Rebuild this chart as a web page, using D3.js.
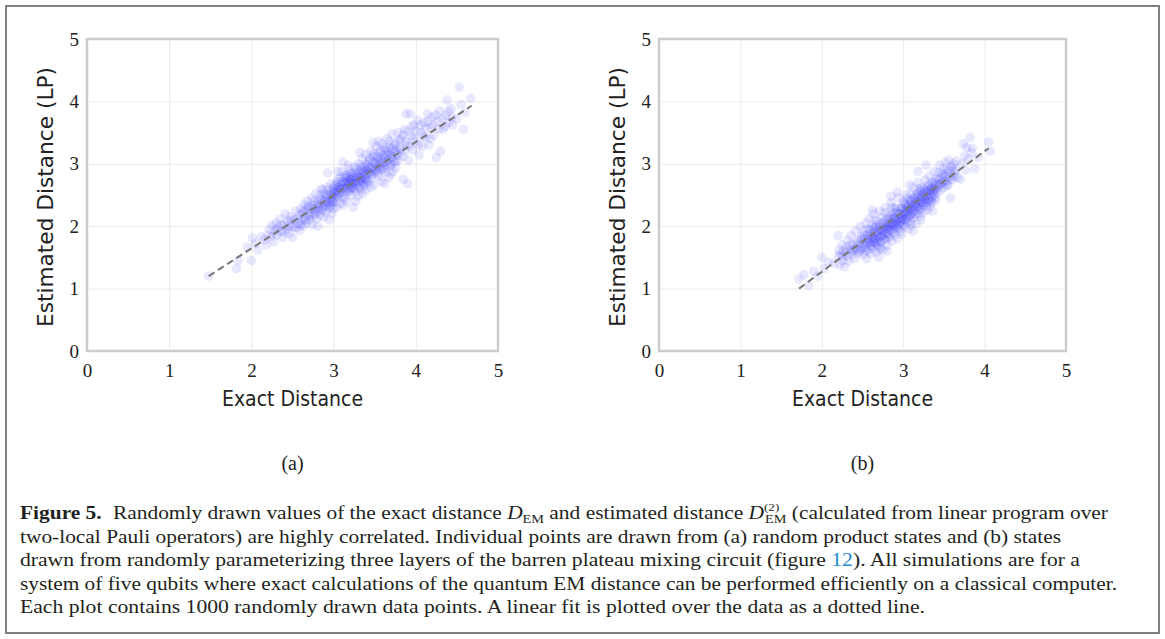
<!DOCTYPE html>
<html>
<head>
<meta charset="utf-8">
<script src="https://cdn.jsdelivr.net/npm/d3@7"></script>
<style>
  body { margin: 0; background: #fff; }
  svg { display: block; }
  .serif { font-family: "Liberation Serif", "Times New Roman", serif; }
  .sans { font-family: "DejaVu Sans", sans-serif; }
</style>
</head>
<body>
<div id="chart"></div>
<script>
// axis ticks shared by both panels
const xTicks = [0, 1, 2, 3, 4, 5];
const yTicks = [0, 1, 2, 3, 4, 5];
const xLabel = "Exact Distance";
const yLabel = "Estimated Distance (LP)";
const panelNames = ["(a)", "(b)"];

// (a) random product states: [exact, estimated]
const pointsA = [
  [1.48,1.20],[1.82,1.32],[1.84,1.45],[1.95,1.66],[2.00,1.45],[2.01,1.81],[2.05,1.72],[2.08,1.62],[2.12,1.83],[2.16,1.78],[2.18,1.70],[2.20,1.86],
  [2.22,1.95],[2.24,1.83],[2.25,2.02],[2.27,1.75],[2.28,1.90],[2.30,2.05],[2.31,1.86],[2.33,1.98],[2.35,2.12],[2.36,1.92],[2.38,1.82],[2.40,2.02],[2.41,2.20],[2.43,1.95],[2.44,2.08],[2.46,1.88],[2.47,2.15],[2.49,2.00],[2.50,1.82],[2.52,2.10],[2.54,2.24],[2.55,1.97],[2.57,2.05],[2.58,2.18],[2.59,1.93],
  [2.60,2.28],[2.61,2.08],[2.62,2.20],[2.63,2.00],[2.64,2.35],[2.65,2.14],[2.66,2.26],[2.67,2.05],[2.68,2.40],[2.69,2.18],[2.70,2.30],[2.71,2.10],[2.72,2.22],[2.73,2.45],[2.74,2.02],[2.75,2.33],[2.76,2.17],[2.77,2.27],[2.78,2.52],[2.79,2.12],[2.80,2.38],[2.80,2.24],[2.81,2.00],[2.82,2.30],[2.83,2.44],[2.84,2.18],[2.85,2.36],[2.86,2.26],[2.87,2.58],[2.88,2.14],[2.89,2.40],[2.90,2.32],[2.90,2.48],[2.91,2.22],[2.92,2.62],[2.93,2.37],[2.94,2.28],[2.95,2.50],[2.95,2.10],[2.96,2.42],[2.97,2.33],[2.97,2.68],[2.98,2.55],[2.98,2.20],[2.99,2.46],[2.99,2.38],[3.00,2.60],[3.00,2.28],[2.93,2.85],[2.85,2.60],
  [3.01,2.52],[3.02,2.40],[3.03,2.66],[3.04,2.30],[3.05,2.58],[3.06,2.75],[3.06,2.46],[3.07,2.62],[3.08,2.36],[3.09,2.70],[3.10,2.54],[3.10,2.88],[3.11,3.03],[3.12,2.60],[3.13,2.45],[3.13,2.78],[3.14,2.68],[3.15,2.55],[3.16,2.82],[3.16,2.40],[3.17,2.72],[3.18,2.64],[3.19,2.92],[3.20,2.58],[3.20,2.76],[3.21,2.50],[3.22,2.70],[3.22,2.85],[3.23,2.62],[3.24,2.30],[3.25,2.78],[3.25,2.68],[3.26,2.95],[3.27,2.56],[3.28,2.74],[3.28,2.84],[3.29,2.64],[3.30,2.48],[3.30,3.00],[3.31,2.80],[3.32,2.70],[3.33,2.90],[3.33,2.60],[3.34,2.76],[3.35,3.08],[3.35,2.52],[3.36,2.86],[3.36,2.72],[3.37,2.94],[3.38,2.66],[3.38,2.82],[3.39,3.15],[3.39,2.58],[3.40,2.90],[3.40,2.76],[3.32,3.18],[3.18,2.98],[3.05,2.88],[3.27,2.40],[3.12,2.34],
  [3.41,2.98],[3.42,2.70],[3.43,3.05],[3.44,2.85],[3.45,3.20],[3.46,2.76],[3.47,2.94],[3.48,3.12],[3.49,2.66],[3.50,3.02],[3.51,2.88],[3.52,3.28],[3.53,2.96],[3.54,3.10],[3.55,2.80],[3.56,3.18],[3.57,3.00],[3.58,2.72],[3.59,3.32],[3.60,2.92],[3.61,3.08],[3.62,3.22],[3.63,2.86],[3.64,3.02],[3.65,3.40],[3.66,3.14],[3.67,2.78],[3.68,3.26],[3.69,2.98],[3.70,3.10],[3.71,3.48],[3.72,2.88],[3.73,3.20],[3.74,3.04],[3.75,3.34],[3.76,2.94],[3.77,3.16],[3.78,3.50],[3.79,3.06],[3.80,3.26],[3.55,3.36],[3.62,2.68],[3.48,3.34],[3.70,2.84],[3.45,2.62],
  [3.82,3.40],[3.84,3.12],[3.85,2.75],[3.86,3.55],[3.88,3.80],[3.89,3.30],[3.90,2.68],[3.91,3.06],[3.93,3.80],[3.94,3.45],[3.96,3.22],[3.98,3.62],[4.00,3.36],[4.02,3.70],[4.04,3.14],[4.06,3.50],[4.08,3.28],[4.10,3.66],[4.12,3.42],[4.14,3.80],[4.16,3.30],[4.18,3.58],[4.20,3.75],[4.22,3.46],[4.25,3.10],[4.27,3.68],[4.29,3.85],[4.30,3.20],
  [4.33,3.55],[4.36,3.78],[4.38,4.02],[4.40,3.66],[4.43,3.88],[4.45,3.62],[4.50,3.72],[4.53,4.23],[4.55,3.95],[4.58,3.55],[4.60,3.82],[4.67,4.05],
  // denser core
  [2.52,1.98],[2.56,2.12],[2.60,2.02],[2.63,2.24],[2.66,2.10],[2.69,2.32],[2.71,2.16],[2.74,2.28],[2.76,2.40],[2.78,2.20],[2.81,2.34],[2.83,2.26],[2.84,2.50],[2.86,2.42],[2.88,2.30],[2.89,2.52],[2.91,2.38],[2.92,2.46],[2.94,2.58],[2.95,2.34],[2.97,2.50],[2.98,2.40],[3.00,2.54],[3.01,2.64],[3.02,2.46],[3.03,2.56],[3.04,2.70],[3.05,2.50],[3.06,2.62],[3.07,2.54],[3.08,2.78],[3.09,2.60],[3.10,2.66],[3.11,2.48],[3.12,2.72],[3.13,2.62],[3.14,2.82],[3.15,2.70],[3.16,2.60],[3.17,2.78],[3.18,2.70],[3.19,2.56],[3.20,2.84],[3.20,2.68],[3.21,2.74],[3.22,2.62],[3.23,2.80],[3.24,2.72],[3.25,2.60],[3.26,2.86],[3.27,2.70],[3.28,2.78],[3.29,2.92],[3.30,2.72],[3.31,2.62],[3.32,2.86],[3.33,2.76],[3.34,2.96],[3.35,2.80],[3.36,2.66],[3.37,2.88],[3.38,2.74],[3.39,3.00],[3.40,2.84],[3.41,2.72],[3.42,2.94],[3.43,2.86],[3.44,3.08],[3.45,2.92],[3.46,2.82],[3.47,3.04],[3.48,2.90],[3.49,3.16],[3.50,2.84],[3.51,3.00],[3.52,2.92],[3.53,3.12],[3.54,2.86],[3.55,3.04],[3.56,2.96],[3.57,3.22],[3.58,3.08],[3.59,2.90],[3.60,3.14],[3.61,3.02],[3.62,2.94],[3.63,3.26],[3.64,3.12],[3.65,2.98],[3.66,3.20],[3.67,3.06],[3.68,3.36],[3.69,3.14],[3.70,2.98],[3.71,3.24],[3.72,3.10],[3.74,3.30],[3.75,3.02],[3.76,3.22],[3.78,3.14],[3.80,3.38],[3.82,3.24],[3.84,3.46],[3.86,3.20],[3.88,3.36],[3.90,3.52],[3.92,3.28],[3.95,3.60],[3.97,3.40],[4.00,3.52],[4.03,3.30],[4.06,3.62],[4.09,3.44],[4.12,3.56],[4.15,3.68],[4.18,3.40],[4.21,3.62],[4.24,3.78],[4.28,3.56],[4.32,3.72],[4.36,3.60],[4.40,3.84],[4.44,3.74],[2.45,2.00],[2.48,2.10],[2.40,1.90],[2.36,2.02],[2.30,1.95]
];

// (b) barren plateau circuit states
const pointsB = [
  [1.72,1.15],[1.78,1.22],[1.84,1.05],[1.90,1.28],[1.95,1.20],[2.00,1.50],[2.03,1.32],[2.08,1.42],[2.15,1.40],[2.20,1.85],
  [2.20,1.52],[2.21,1.62],[2.22,1.38],[2.23,1.55],[2.25,1.70],[2.26,1.45],[2.27,1.60],[2.28,1.35],[2.30,1.66],[2.31,1.52],[2.32,1.78],[2.33,1.44],[2.35,1.62],[2.36,1.85],[2.37,1.55],[2.38,1.70],[2.40,1.48],[2.41,1.92],[2.42,1.64],[2.44,1.78],[2.45,1.56],[2.46,1.70],[2.47,2.00],[2.48,1.62],[2.49,1.84],
  [2.50,1.72],[2.51,1.55],[2.51,1.92],[2.52,1.80],[2.53,1.66],[2.54,2.05],[2.55,1.74],[2.55,1.48],[2.56,1.86],[2.57,1.62],[2.58,2.12],[2.58,1.78],[2.59,1.94],[2.60,1.70],[2.60,1.56],[2.61,1.84],[2.62,2.00],[2.62,1.76],[2.63,1.64],[2.64,1.90],[2.64,2.20],[2.65,1.80],[2.66,1.72],[2.66,1.98],[2.67,1.58],[2.68,1.86],[2.68,2.08],[2.69,1.76],[2.70,1.94],[2.70,1.66],[2.71,2.24],[2.72,1.84],[2.72,2.02],[2.73,1.74],[2.74,1.92],[2.74,2.14],[2.75,1.62],[2.76,1.98],[2.76,1.86],[2.77,2.08],[2.78,1.78],[2.78,2.30],[2.79,1.96],[2.80,2.04],[2.80,1.70],[2.81,1.88],[2.82,2.16],[2.82,2.00],[2.83,1.82],[2.84,2.10],[2.84,1.94],[2.85,2.38],[2.86,2.02],[2.86,1.76],[2.87,2.12],[2.88,1.90],[2.88,2.22],[2.89,2.04],[2.90,1.86],[2.90,2.14],[2.91,2.30],[2.92,1.98],[2.92,2.08],[2.93,1.80],[2.94,2.20],[2.94,2.46],[2.95,2.02],[2.96,2.12],[2.96,1.92],[2.97,2.28],[2.98,2.06],[2.98,2.18],[2.99,1.88],[3.00,2.24],[3.00,2.10],[2.85,2.48],[2.62,2.26],[2.70,1.50],[2.80,1.60],[2.93,2.55],
  [3.01,2.36],[3.02,2.00],[3.02,2.18],[3.03,2.28],[3.04,2.12],[3.05,2.44],[3.05,2.06],[3.06,2.24],[3.07,2.34],[3.07,1.96],[3.08,2.16],[3.09,2.52],[3.09,2.28],[3.10,2.40],[3.10,2.08],[3.11,2.20],[3.12,2.62],[3.12,2.32],[3.13,2.14],[3.14,2.44],[3.14,2.26],[3.15,2.36],[3.16,2.04],[3.16,2.50],[3.17,2.30],[3.18,2.20],[3.18,2.70],[3.19,2.42],[3.20,2.34],[3.20,2.56],[3.21,2.16],[3.22,2.46],[3.22,2.28],[3.23,2.62],[3.24,2.38],[3.25,2.52],[3.25,2.22],[3.26,2.44],[3.27,2.74],[3.28,2.34],[3.28,2.56],[3.29,2.48],[3.30,2.26],[3.30,2.64],[3.31,2.40],[3.32,2.80],[3.32,2.52],[3.33,2.32],[3.34,2.60],[3.35,2.46],[3.35,2.70],[3.36,2.38],[3.37,2.56],[3.38,2.88],[3.38,2.50],[3.39,2.66],[3.40,2.42],[3.40,2.60],[3.12,1.92],[3.28,2.98],[3.22,2.10],[3.08,2.66],[3.36,2.24],[3.18,2.88],[3.04,2.50],
  [3.41,2.76],[3.42,2.54],[3.43,2.86],[3.44,2.66],[3.45,2.98],[3.46,2.58],[3.47,2.78],[3.48,2.70],[3.49,2.92],[3.50,2.62],[3.51,2.84],[3.52,3.02],[3.53,2.72],[3.54,2.90],[3.55,2.66],[3.56,3.06],[3.57,2.80],[3.58,2.45],[3.59,2.96],[3.60,2.74],[3.62,3.00],[3.63,2.86],[3.65,3.04],[3.67,2.78],[3.70,2.75],
  [3.72,3.00],[3.74,3.32],[3.75,3.12],[3.77,2.90],[3.78,3.26],[3.80,3.08],[3.82,3.42],[3.84,3.18],[3.85,3.25],[3.88,2.92],[3.92,3.10],[4.05,3.35],[4.07,3.20],
  // denser core
  [2.40,1.62],[2.43,1.72],[2.46,1.60],[2.48,1.78],[2.50,1.66],[2.52,1.86],[2.54,1.70],[2.56,1.80],[2.57,1.96],[2.59,1.74],[2.60,1.88],[2.61,1.68],[2.62,1.82],[2.63,1.96],[2.64,1.74],[2.65,1.88],[2.66,1.80],[2.67,2.02],[2.68,1.70],[2.69,1.90],[2.70,1.82],[2.71,1.98],[2.72,1.76],[2.73,1.92],[2.74,1.84],[2.75,2.06],[2.76,1.94],[2.77,1.80],[2.78,2.00],[2.79,1.88],[2.80,2.12],[2.81,1.96],[2.82,1.84],[2.83,2.04],[2.84,1.98],[2.85,2.18],[2.86,1.92],[2.87,2.06],[2.88,2.00],[2.89,2.14],[2.90,1.96],[2.91,2.08],[2.92,2.22],[2.93,2.02],[2.94,2.12],[2.95,1.96],[2.96,2.20],[2.97,2.08],[2.98,2.30],[2.99,2.14],[3.00,2.02],[3.01,2.22],[3.02,2.10],[3.03,2.36],[3.04,2.20],[3.05,2.30],[3.06,2.14],[3.07,2.26],[3.08,2.42],[3.09,2.18],[3.10,2.30],[3.11,2.38],[3.12,2.24],[3.13,2.46],[3.14,2.34],[3.15,2.20],[3.16,2.40],[3.17,2.52],[3.18,2.32],[3.19,2.48],[3.20,2.26],[3.21,2.40],[3.22,2.56],[3.23,2.36],[3.24,2.48],[3.25,2.32],[3.26,2.60],[3.27,2.42],[3.28,2.50],[3.29,2.38],[3.30,2.56],[3.31,2.66],[3.32,2.44],[3.33,2.58],[3.34,2.40],[3.35,2.62],[3.36,2.52],[3.37,2.72],[3.38,2.58],[3.39,2.46],[3.40,2.70],[3.42,2.62],[3.44,2.76],[3.46,2.68],[3.48,2.84],[3.50,2.72],[3.52,2.80],[3.54,2.66],[3.56,2.88],[3.58,2.76],[3.60,2.92],[3.62,2.80],[3.65,2.90],[2.35,1.70],[2.30,1.58],[2.26,1.52],[2.38,1.60],[2.55,1.60],[2.65,2.10],[2.78,2.22],[2.90,2.28],[3.00,2.40],[3.10,2.02],[3.20,2.60],[2.72,1.64],[2.86,2.30]
];

// linear fit end points (dashed line)
const fitA = [[1.48, 1.20], [4.68, 3.93]];
const fitB = [[1.72, 1.00], [4.05, 3.25]];

const width = 1165, height = 639;

const svg = d3.select("#chart").append("svg")
    .attr("width", width)
    .attr("height", height);

// figure frame
svg.append("rect")
    .attr("x", 6).attr("y", 6)
    .attr("width", width - 12).attr("height", height - 12)
    .attr("fill", "none")
    .attr("stroke", "#808080")
    .attr("stroke-width", 2);

function drawPanel(points, fit, box, name){
    const x = d3.scaleLinear().domain([0, 5]).range([box.left, box.right]);
    const y = d3.scaleLinear().domain([0, 5]).range([box.bottom, box.top]);
    const g = svg.append("g");

    // grid
    g.append("g")
        .attr("transform", `translate(0,${box.bottom})`)
        .call(d3.axisBottom(x).tickValues(xTicks).tickSize(-(box.bottom - box.top)).tickFormat(""))
        .call(a => a.select(".domain").remove())
        .call(a => a.selectAll("line").attr("stroke", "#ebebeb"));
    g.append("g")
        .attr("transform", `translate(${box.left},0)`)
        .call(d3.axisLeft(y).tickValues(yTicks).tickSize(-(box.right - box.left)).tickFormat(""))
        .call(a => a.select(".domain").remove())
        .call(a => a.selectAll("line").attr("stroke", "#ebebeb"));

    // points
    g.append("g").selectAll("circle")
        .data(points)
        .join("circle")
        .attr("cx", d => x(d[0]))
        .attr("cy", d => y(d[1]))
        .attr("r", 4.8)
        .attr("fill", "#0000ff")
        .attr("fill-opacity", 0.09);

    // fit line
    g.append("path")
        .datum(fit)
        .attr("d", d3.line().x(d => x(d[0])).y(d => y(d[1])))
        .attr("fill", "none")
        .attr("stroke", "#777")
        .attr("stroke-width", 2)
        .attr("stroke-dasharray", "7,4");

    // frame
    g.append("rect")
        .attr("x", box.left).attr("y", box.top)
        .attr("width", box.right - box.left).attr("height", box.bottom - box.top)
        .attr("fill", "none")
        .attr("stroke", "#cccccc")
        .attr("stroke-width", 2.5);

    // tick labels
    const xa = g.append("g")
        .attr("transform", `translate(0,${box.bottom})`)
        .call(d3.axisBottom(x).tickValues(xTicks).tickSize(0).tickPadding(13).tickFormat(d3.format("d")));
    const ya = g.append("g")
        .attr("transform", `translate(${box.left},0)`)
        .call(d3.axisLeft(y).tickValues(yTicks).tickSize(0).tickPadding(8).tickFormat(d3.format("d")));
    [xa, ya].forEach(a => {
        a.attr("font-family", null).attr("font-size", null);
        a.select(".domain").remove();
        a.selectAll("text")
            .classed("serif", true)
            .attr("font-size", 19)
            .attr("fill", "#222");
    });

    // axis titles
    g.append("text")
        .classed("sans", true)
        .attr("x", (box.left + box.right) / 2)
        .attr("y", 406)
        .attr("text-anchor", "middle")
        .attr("font-size", 21)
        .attr("textLength", 141)
        .attr("lengthAdjust", "spacingAndGlyphs")
        .attr("fill", "#222")
        .text(xLabel);
    g.append("text")
        .classed("sans", true)
        .attr("transform", `translate(${box.left - 34},${(box.top + box.bottom) / 2 + 2}) rotate(-90)`)
        .attr("text-anchor", "middle")
        .attr("font-size", 21)
        .attr("textLength", 260)
        .attr("lengthAdjust", "spacingAndGlyphs")
        .attr("fill", "#222")
        .text(yLabel);

    // sub caption
    svg.append("text")
        .classed("serif", true)
        .attr("x", (box.left + box.right) / 2)
        .attr("y", 470)
        .attr("text-anchor", "middle")
        .attr("font-size", 20)
        .attr("fill", "#222")
        .text(name);
}

drawPanel(pointsA, fitA, {left: 87, right: 498, top: 39, bottom: 351}, panelNames[0]);
drawPanel(pointsB, fitB, {left: 659, right: 1066, top: 39, bottom: 351}, panelNames[1]);

// caption
const cap = svg.append("g")
    .classed("serif", true)
    .attr("font-size", 18)
    .attr("fill", "#231f20");

function capLine(yPos, len){
    return cap.append("text")
        .attr("x", 20)
        .attr("y", yPos)
        .attr("textLength", len)
        .attr("lengthAdjust", "spacingAndGlyphs");
}

let t = capLine(519, 1088);
t.append("tspan").attr("font-weight", "bold").text("Figure 5.");
t.append("tspan").attr("dx", 5).text(" Randomly drawn values of the exact distance ");
t.append("tspan").attr("font-style", "italic").text("D");
t.append("tspan").attr("font-size", 12).attr("dy", 4).text("EM");
t.append("tspan").attr("dy", -4).text(" and estimated distance ");
t.append("tspan").attr("font-style", "italic").text("D");
t.append("tspan").attr("font-size", 11).attr("dy", -8).text("(2)");
t.append("tspan").attr("font-size", 12).attr("dx", -12).attr("dy", 12).text("EM");
t.append("tspan").attr("dy", -4).text(" (calculated from linear program over");

capLine(543, 1041).text("two-local Pauli operators) are highly correlated. Individual points are drawn from (a) random product states and (b) states");

t = capLine(566, 1060);
t.append("tspan").text("drawn from randomly parameterizing three layers of the barren plateau mixing circuit (figure ");
t.append("tspan").attr("fill", "#1f8ad2").text("12");
t.append("tspan").text("). All simulations are for a");

capLine(590, 1097).text("system of five qubits where exact calculations of the quantum EM distance can be performed efficiently on a classical computer.");
capLine(613, 905).text("Each plot contains 1000 randomly drawn data points. A linear fit is plotted over the data as a dotted line.");
</script>
</body>
</html>
